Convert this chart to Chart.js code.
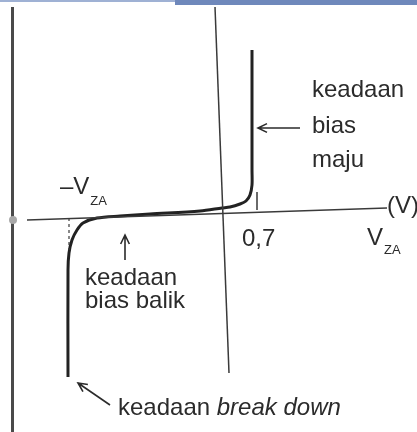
<!DOCTYPE html>
<html>
<head>
<meta charset="utf-8">
<script src="https://cdn.jsdelivr.net/npm/chart.js@4"></script>
<style>
  body { margin: 0; background: #fff; }
  canvas { display: block; }
</style>
</head>
<body>
<canvas id="diode-chart" width="417" height="432"></canvas>
<script>
// diode I-V curve, V in volts, I in arbitrary units (mA)
var curveV = [-3.08, -3.08, -3.06, -3.0, -2.9, -2.78, -2.5, -2.04, -1.44, -0.44, 0.0, 0.16, 0.36, 0.48, 0.56, 0.60, 0.60, 0.60];
var curveI = [-16.5, -5.8, -4.1, -2.8, -1.8, -1.1, -0.6, -0.4, -0.2, 0.1, 0.4, 0.5, 0.8, 1.1, 1.7, 2.7, 4.2, 16.2];

// hand drawn axes (slightly tilted in the scan)
var xAxisV = [-3.9, 3.3];
var xAxisI = [-0.8, 0.4];
var yAxisV = [-0.14, 0.14];
var yAxisI = [20.5, -16.1];

// markers
var zenerV = -3.06;
var zenerDashI = [-0.6, -3.8];
var kneeV = 0.7;
var kneeTickI = [2.0, 0.2];

function pts(xs, ys) {
  return xs.map(function (x, i) { return { x: x, y: ys[i] }; });
}

var ink = '#2b2b2b';
var font = '"Liberation Sans", Arial, sans-serif';

var labels = [
  { text: 'keadaan', v: 1.8, i: 11.5 },
  { text: 'bias', v: 1.8, i: 7.9 },
  { text: 'maju', v: 1.8, i: 4.5 },
  { text: '0,7', v: 0.4, i: -3.4 },
  { text: '(V)', v: 3.3, i: -0.1 },
  { text: 'keadaan', v: -2.74, i: -7.3 },
  { text: 'bias balik', v: -2.74, i: -9.6 }
];
var subLabels = [
  { text: '\u2013V', sub: 'ZA', v: -3.24, i: 1.8, drop: 11 },
  { text: 'V', sub: 'ZA', v: 2.9, i: -3.3, drop: 9 }
];
var arrows = [
  { from: [1.56, 8.4], to: [0.72, 8.4] },
  { from: [-1.94, -4.8], to: [-1.94, -2.3] },
  { from: [-2.24, -19.3], to: [-2.88, -17.1] }
];

var decor = {
  id: 'decor',
  beforeDraw: function (chart) {
    var c = chart.ctx;
    c.save();
    c.fillStyle = '#fff';
    c.fillRect(0, 0, chart.width, chart.height);
    // scan edges
    c.fillStyle = '#9fb1d4';
    c.fillRect(0, 0, chart.width, 2);
    c.fillStyle = '#6f88bb';
    c.fillRect(175, 0, chart.width - 175, 5);
    c.fillStyle = '#4a4a4a';
    c.fillRect(11, 7, 3, chart.height - 7);
    c.fillStyle = '#a8a8a8';
    c.beginPath();
    c.arc(13, 220, 4, 0, Math.PI * 2);
    c.fill();
    c.restore();
  },
  afterDraw: function (chart) {
    var c = chart.ctx;
    var xs = chart.scales.x, ys = chart.scales.y;
    function px(v) { return xs.getPixelForValue(v); }
    function py(i) { return ys.getPixelForValue(i); }
    c.save();
    c.fillStyle = ink;
    c.strokeStyle = ink;
    c.textBaseline = 'alphabetic';
    c.textAlign = 'left';
    c.font = '24px ' + font;
    labels.forEach(function (l) { c.fillText(l.text, px(l.v), py(l.i)); });
    subLabels.forEach(function (l) {
      c.font = '24px ' + font;
      var x = px(l.v), y = py(l.i);
      c.fillText(l.text, x, y);
      var w = c.measureText(l.text).width;
      c.font = '13px ' + font;
      c.fillText(l.sub, x + w + 1, y + l.drop);
    });
    // breakdown label, mixed style
    var bx = px(-2.08), by = py(-20.3);
    c.font = '24px ' + font;
    c.fillText('keadaan ', bx, by);
    var bw = c.measureText('keadaan ').width;
    c.font = 'italic 24px ' + font;
    c.fillText('break down', bx + bw, by);
    // arrows
    c.lineWidth = 1.6;
    arrows.forEach(function (a) {
      var x1 = px(a.from[0]), y1 = py(a.from[1]);
      var x2 = px(a.to[0]), y2 = py(a.to[1]);
      var ang = Math.atan2(y2 - y1, x2 - x1);
      c.beginPath();
      c.moveTo(x1, y1);
      c.lineTo(x2, y2);
      c.moveTo(x2 - 10 * Math.cos(ang - 0.45), y2 - 10 * Math.sin(ang - 0.45));
      c.lineTo(x2, y2);
      c.lineTo(x2 - 10 * Math.cos(ang + 0.45), y2 - 10 * Math.sin(ang + 0.45));
      c.stroke();
    });
    c.restore();
  }
};

var myChart = new Chart(document.getElementById('diode-chart'), {
  type: 'scatter',
  data: {
    datasets: [
      { label: 'x axis', data: pts(xAxisV, xAxisI), showLine: true, borderColor: '#3a3a3a', borderWidth: 1.5, pointRadius: 0 },
      { label: 'y axis', data: pts(yAxisV, yAxisI), showLine: true, borderColor: '#3a3a3a', borderWidth: 1.5, pointRadius: 0 },
      { label: 'Vza', data: pts([zenerV, zenerV], zenerDashI), showLine: true, borderColor: '#3a3a3a', borderWidth: 1.2, borderDash: [3, 3], pointRadius: 0 },
      { label: '0,7', data: pts([kneeV, kneeV], kneeTickI), showLine: true, borderColor: '#3a3a3a', borderWidth: 1.5, pointRadius: 0 },
      { label: 'I-V', data: pts(curveV, curveI), showLine: true, borderColor: '#222', borderWidth: 3, tension: 0.3, pointRadius: 0 }
    ]
  },
  options: {
    responsive: false,
    animation: false,
    layout: { padding: 0 },
    plugins: { legend: { display: false }, tooltip: { enabled: false } },
    scales: {
      x: { type: 'linear', display: false, min: -4.44, max: 3.9 },
      y: { type: 'linear', display: false, min: -22, max: 21.2 }
    }
  },
  plugins: [decor]
});
</script>
</body>
</html>
